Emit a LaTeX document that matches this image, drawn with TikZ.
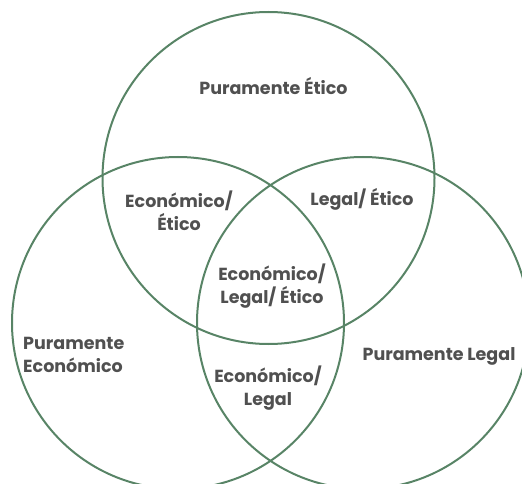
\documentclass[tikz,border=0pt]{standalone}
\usepackage{fontspec}
\setmainfont{Poppins}
\usetikzlibrary{positioning}
\definecolor{ringgreen}{RGB}{88,132,102}
\definecolor{labelgray}{RGB}{80,80,80}
\tikzstyle{ring} = [circle, minimum size=332pt, inner sep=0pt, draw=ringgreen, line width=2pt]
\tikzstyle{region} = [text centered, align=center, inner sep=0pt, font=\fontsize{17.5}{23}\selectfont\bfseries, text=labelgray]

\begin{document}
\begin{tikzpicture}[x=1pt, y=-1pt]
\useasboundingbox (0,0) rectangle (522,484);
\node (etico) [ring] at (268.5,178) {};
\node (economico) [ring] at (178,323) {};
\node (legal) [ring] at (363,323) {};

\node (pet) [region] at (273.5,86) {Puramente Ético};
\node (ecet) [region] at (179,211) {Económico/\\ Ético};
\node (leet) [region] at (362,199) {Legal/ Ético};
\node (all) [region] at (272,286) {Económico/\\ Legal/ Ético};
\node (pec) [region, align=left, anchor=west] at (23,355) {Puramente\\ Económico};
\node (ple) [region] at (439,356) {Puramente Legal};
\node (ecle) [region] at (268,388) {Económico/\\ Legal};
\end{tikzpicture}
\end{document}
